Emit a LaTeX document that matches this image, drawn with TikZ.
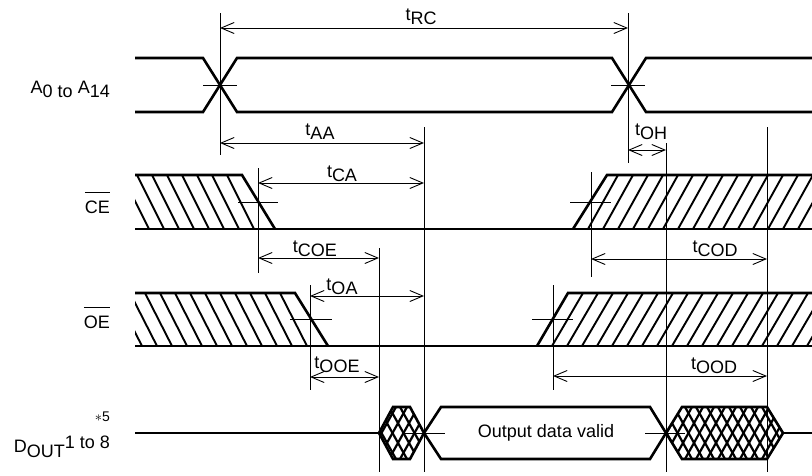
\documentclass[tikz,border=0pt]{standalone}
\usepackage{fontspec}
\setmainfont{Liberation Sans}
\usetikzlibrary{arrows.meta}

\newcommand\tname[1]{\raisebox{4pt}{t}#1}
\newcommand\ovl[1]{\setbox0=\hbox{#1}\rlap{\rule[20pt]{\wd0}{1.3pt}}\box0}

\tikzset{
  sig/.style={line width=2.6pt},
  hatch/.style={line width=1.9pt},
  xhatch/.style={line width=2.2pt},
  mark line/.style={line width=0.9pt},
  dim/.style={line width=0.9pt, {Straight Barb[length=13pt,width=11pt]}-{Straight Barb[length=13pt,width=11pt]}},
  tlab/.style={anchor=base, inner sep=0pt, font=\fontsize{18}{20}\selectfont},
  siglab/.style={anchor=base east, inner sep=0pt, font=\fontsize{18}{20}\selectfont},
}

\begin{document}
\begin{tikzpicture}[x=1pt,y=-1pt]
\useasboundingbox (0,0) rectangle (812,475);

% signal names
\node[siglab] (a-lab) at (110,97) {\raisebox{4pt}{A}0 to \raisebox{4pt}{A}14};
\node[siglab] (ce-lab) at (110,213) {\ovl{CE}};
\node[siglab] (oe-lab) at (110,328) {\ovl{OE}};
\node[siglab, font=\fontsize{14}{16}\selectfont] (note) at (110,421) {$\ast$5};
\node[siglab] (dout-lab) at (110,448) {\raisebox{-4pt}{D}\raisebox{-9pt}{OUT}1 to 8};

% address
\draw[sig] (135,58) -- (203,58) -- (237,112) -- (612,112) -- (646,58) -- (812,58);
\draw[sig] (135,112) -- (203,112) -- (237,58) -- (612,58) -- (646,112) -- (812,112);

% CE
\begin{scope}
  \clip (135,175) -- (242,175) -- (275,229) -- (135,229) -- cycle;
  \foreach \x in {92,107,...,227}
    \draw[hatch] (\x,175) -- ++(27,54);
\end{scope}
\begin{scope}
  \clip (573,229) -- (607,175) -- (812,175) -- (812,229) -- cycle;
  \foreach \x in {588,603,...,813}
    \draw[hatch] (\x,229) -- ++(30,-54);
\end{scope}
\draw[sig] (135,175) -- (242,175) -- (275,229);
\draw[sig] (573,229) -- (607,175) -- (812,175);
\draw[sig] (135,229) -- (812,229);

% OE
\begin{scope}
  \clip (135,293) -- (295,293) -- (328,346) -- (135,346) -- cycle;
  \foreach \x in {85,100,...,280}
    \draw[hatch] (\x,293) -- ++(27,53);
\end{scope}
\begin{scope}
  \clip (537,346) -- (568,293) -- (812,293) -- (812,346) -- cycle;
  \foreach \x in {552,567,...,813}
    \draw[hatch] (\x,346) -- ++(31,-53);
\end{scope}
\draw[sig] (135,293) -- (295,293) -- (328,346);
\draw[sig] (537,346) -- (568,293) -- (812,293);
\draw[sig] (135,346) -- (812,346);

% Dout
\begin{scope}
  \clip (379,433) -- (393,407) -- (410,407) -- (424,433) -- (410,459) -- (393,459) -- cycle;
  \foreach \x in {345,356,...,434} {
    \draw[xhatch] (\x,407) -- ++(29,52);
    \draw[xhatch] (\x,459) -- ++(29,-52);
  }
\end{scope}
\begin{scope}
  \clip (666,433) -- (682,407) -- (767,407) -- (783,433) -- (767,459) -- (682,459) -- cycle;
  \foreach \x in {630,641,...,795} {
    \draw[xhatch] (\x,407) -- ++(29,52);
    \draw[xhatch] (\x,459) -- ++(29,-52);
  }
\end{scope}
\draw[sig] (135,433) -- (379,433);
\draw[sig] (379,433) -- (393,407) -- (410,407) -- (424,433) -- (410,459) -- (393,459) -- cycle;
\draw[sig] (424,433) -- (441,407) -- (650,407) -- (666,433) -- (650,459) -- (441,459) -- cycle;
\draw[sig] (666,433) -- (682,407) -- (767,407) -- (783,433) -- (767,459) -- (682,459) -- cycle;
\draw[sig] (783,433) -- (812,433);
\node[font=\fontsize{18}{20}\selectfont] (valid) at (546,433) {Output data valid};

% cross marks
\draw[mark line] (203,85) -- (237,85) (611,85) -- (645,85)
  (238,202) -- (278,202) (570,202) -- (611,202)
  (290,319) -- (332,319) (532,319) -- (573,319)
  (404,433) -- (445,433) (645,433) -- (685,433);

% timing lines
\foreach \x/\ya/\yb in {220/13/155, 628/13/163, 424/127/472, 666/143/472,
    767/127/472, 379/248/472, 258/168/273, 591/172/277, 310/285/390, 553/285/390}
  \draw[mark line] (\x,\ya) -- (\x,\yb);

% timing arrows
\foreach \n/\xa/\xb/\y in {rc/220/628/28, aa/220/424/143, oh/628/666/150,
    ca/258/424/183, coe/258/379/258, cod/591/767/259,
    oa/310/424/296, ooe/310/379/377, ood/553/767/376}
{
  \coordinate (\n-l) at (\xa,\y);
  \coordinate (\n-r) at (\xb,\y);
  \draw[dim] (\n-l) -- (\n-r);
}

\node[tlab] (rc-lab) at (421,24) {\tname{RC}};
\node[tlab] (aa-lab) at (320,139) {\tname{AA}};
\node[tlab] (oh-lab) at (651,139) {\tname{OH}};
\node[tlab] (ca-lab) at (342,181) {\tname{CA}};
\node[tlab] (coe-lab) at (315,256) {\tname{COE}};
\node[tlab] (cod-lab) at (715,256) {\tname{COD}};
\node[tlab] (oa-lab) at (342,294) {\tname{OA}};
\node[tlab] (ooe-lab) at (337,372) {\tname{OOE}};
\node[tlab] (ood-lab) at (714,373) {\tname{OOD}};
\end{tikzpicture}
\end{document}
